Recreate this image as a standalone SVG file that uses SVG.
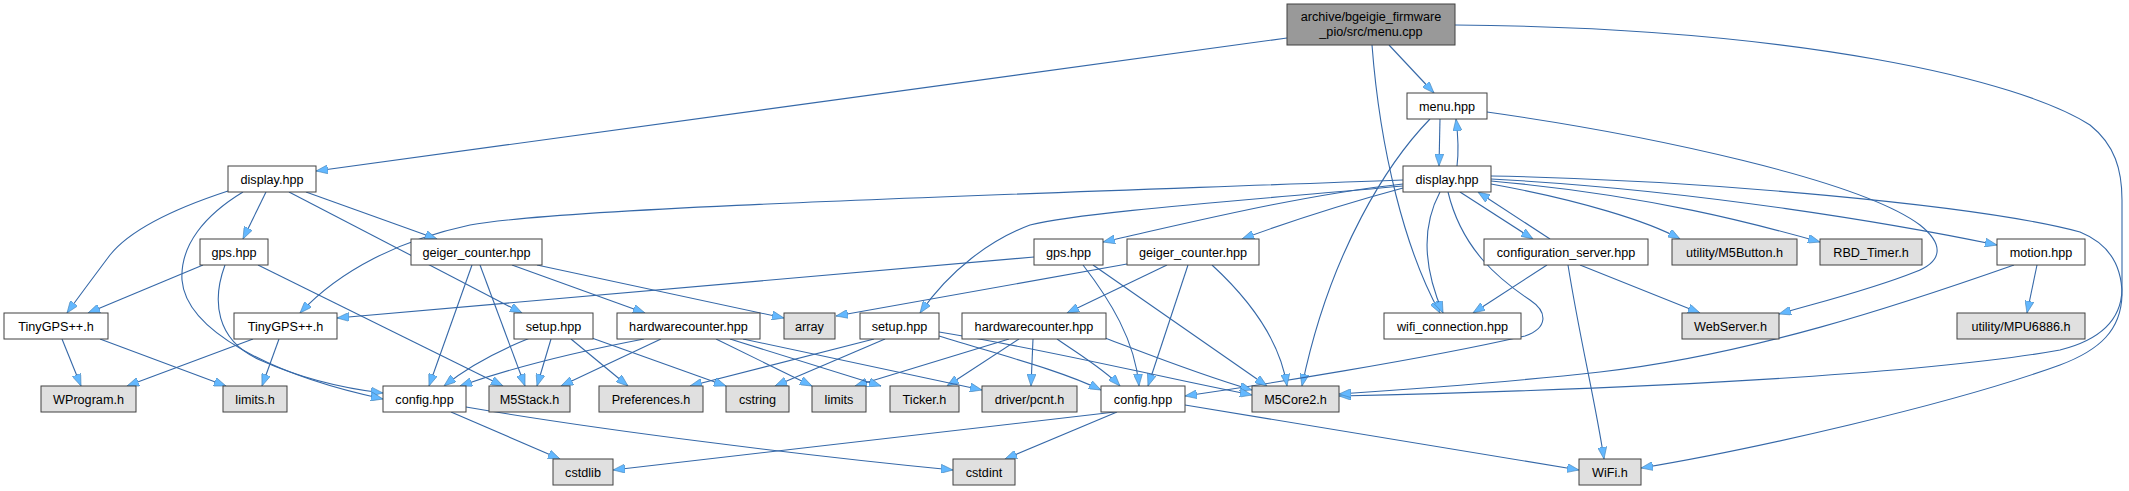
<svg xmlns="http://www.w3.org/2000/svg" width="2129" height="491" viewBox="0 0 2129 491">
<style>
.n rect{fill:#ffffff;stroke:#404040;stroke-width:1}
.x rect{fill:#e0e0e0;stroke:#404040;stroke-width:1}
.r rect{fill:#999999;stroke:#404040;stroke-width:1}
text{font-family:"Liberation Sans",Arial,sans-serif;font-size:12.65px;fill:#000;text-anchor:middle}
#edges path{fill:none;stroke:#3568a8;stroke-width:1.1;marker-end:url(#ah)}
</style>
<defs>
<marker id="ah" viewBox="0 0 12 9" refX="12" refY="4.5" markerWidth="12" markerHeight="9" markerUnits="userSpaceOnUse" orient="auto"><path d="M0,0 L12,4.5 L0,9 z" fill="#63b8ff" stroke="#4682b4" stroke-width="0.6"/></marker>
</defs>
<rect width="2129" height="491" fill="#ffffff"/>
<g id="edges">
<path d="M1287,38 L316,171"/>
<path d="M1389,45 L1434,93"/>
<path d="M1372,45 C1380,150 1405,250 1440,313"/>
<path d="M1455,25 C1800,28 2020,80 2090,125 C2115,145 2122,170 2122,200 L2122,290 C2121,320 2100,340 2060,350 C1950,370 1700,388 1339,396"/>
<path d="M1440,119 L1439,166"/>
<path d="M1457,166 C1459,150 1458,135 1456,119"/>
<path d="M1430,119 C1390,160 1330,250 1302,386"/>
<path d="M1487,112 C1650,135 1860,180 1920,225 C1945,245 1942,262 1915,272 C1870,290 1820,302 1779,314"/>
<path d="M1403,180 C1000,195 560,208 470,225 C400,240 340,270 300,313"/>
<path d="M1403,184 C1300,195 1180,225 1103,242"/>
<path d="M1403,188 C1340,205 1280,225 1242,239"/>
<path d="M1403,186 C1250,200 1080,212 1030,225 C990,240 950,270 920,313"/>
<path d="M1460,192 L1533,239"/>
<path d="M1550,239 L1478,192"/>
<path d="M1440,192 C1425,220 1420,260 1443,313"/>
<path d="M1448,192 C1462,250 1500,280 1530,300 C1548,312 1548,328 1525,336 C1420,360 1260,385 1185,396"/>
<path d="M1491,184 C1580,200 1650,222 1680,239"/>
<path d="M1491,181 C1650,195 1760,225 1820,242"/>
<path d="M1491,179 C1700,190 1900,225 1997,245"/>
<path d="M1491,176 C1700,180 1980,205 2080,232 C2112,245 2122,268 2122,295 C2121,330 2100,350 2060,365 C1950,405 1750,450 1641,468"/>
<path d="M1547,265 L1473,313"/>
<path d="M1580,265 L1700,313"/>
<path d="M1568,265 C1580,340 1595,400 1604,459"/>
<path d="M1034,257 L337,318"/>
<path d="M1083,265 C1110,300 1135,340 1139,386"/>
<path d="M1093,265 L1267,386"/>
<path d="M1127,264 L836,316"/>
<path d="M1167,265 L1067,313"/>
<path d="M1188,265 L1148,386"/>
<path d="M1212,265 C1250,300 1280,340 1287,386"/>
<path d="M2037,265 L2027,313"/>
<path d="M2014,265 C1900,305 1750,355 1600,372 C1500,383 1400,390 1339,394"/>
<path d="M1009,339 L855,386"/>
<path d="M1019,339 L947,386"/>
<path d="M1033,339 L1031,386"/>
<path d="M1057,339 C1080,355 1105,370 1120,386"/>
<path d="M1105,338 C1150,355 1200,375 1252,390"/>
<path d="M874,339 L690,386"/>
<path d="M885,339 L775,386"/>
<path d="M939,336 C1000,355 1060,370 1101,390"/>
<path d="M939,332 C1050,350 1150,375 1252,395"/>
<path d="M661,339 L561,386"/>
<path d="M644,339 C560,355 500,372 460,386"/>
<path d="M716,339 L812,386"/>
<path d="M730,339 L881,386"/>
<path d="M743,339 L982,390"/>
<path d="M530,338 C500,350 470,365 444,386"/>
<path d="M551,339 L537,386"/>
<path d="M571,339 L628,386"/>
<path d="M589,337 L726,386"/>
<path d="M472,265 L429,386"/>
<path d="M480,265 L525,386"/>
<path d="M512,265 L645,313"/>
<path d="M537,265 L784,318"/>
<path d="M203,265 L88,313"/>
<path d="M258,265 L503,386"/>
<path d="M225,265 C212,300 215,340 260,360 C300,378 340,388 383,393"/>
<path d="M228,191 C170,210 130,230 110,255 C95,275 80,295 67,313"/>
<path d="M243,192 C205,215 180,245 182,280 C186,330 270,375 383,399"/>
<path d="M266,192 L243,239"/>
<path d="M289,192 L522,313"/>
<path d="M306,192 L437,239"/>
<path d="M62,339 L81,386"/>
<path d="M100,339 L226,386"/>
<path d="M253,339 L127,386"/>
<path d="M279,339 L262,386"/>
<path d="M451,412 L560,459"/>
<path d="M466,407 C600,430 800,455 953,470"/>
<path d="M1115,412 L613,470"/>
<path d="M1117,412 L1005,459"/>
<path d="M1185,405 L1579,470"/>
</g>
<g id="root" class="r"><rect x="1287" y="4" width="168" height="41"/><text x="1371" y="21">archive/bgeigie_firmware</text><text x="1371" y="36">_pio/src/menu.cpp</text></g>
<g id="menu" class="n"><rect x="1407" y="93" width="80" height="26"/><text x="1447" y="110.5">menu.hpp</text></g>
<g id="displayL" class="n"><rect x="228" y="166" width="88" height="26"/><text x="272" y="183.5">display.hpp</text></g>
<g id="display2" class="n"><rect x="1403" y="166" width="88" height="26"/><text x="1447" y="183.5">display.hpp</text></g>
<g id="gpsL" class="n"><rect x="200" y="239" width="68" height="26"/><text x="234" y="256.5">gps.hpp</text></g>
<g id="geigerL" class="n"><rect x="411" y="239" width="131" height="26"/><text x="476.5" y="256.5">geiger_counter.hpp</text></g>
<g id="gps2" class="n"><rect x="1034" y="239" width="69" height="26"/><text x="1068.5" y="256.5">gps.hpp</text></g>
<g id="geiger2" class="n"><rect x="1127" y="239" width="132" height="26"/><text x="1193" y="256.5">geiger_counter.hpp</text></g>
<g id="confsrv" class="n"><rect x="1484" y="239" width="164" height="26"/><text x="1566" y="256.5">configuration_server.hpp</text></g>
<g id="m5button" class="x"><rect x="1672" y="239" width="125" height="26"/><text x="1734.5" y="256.5">utility/M5Button.h</text></g>
<g id="rbdtimer" class="x"><rect x="1820" y="239" width="102" height="26"/><text x="1871" y="256.5">RBD_Timer.h</text></g>
<g id="motion" class="n"><rect x="1997" y="239" width="88" height="26"/><text x="2041" y="256.5">motion.hpp</text></g>
<g id="tinyL" class="n"><rect x="4" y="313" width="104" height="26"/><text x="56" y="330.5">TinyGPS++.h</text></g>
<g id="tiny2" class="n"><rect x="234" y="313" width="103" height="26"/><text x="285.5" y="330.5">TinyGPS++.h</text></g>
<g id="setupL" class="n"><rect x="514" y="313" width="79" height="26"/><text x="553.5" y="330.5">setup.hpp</text></g>
<g id="hwL" class="n"><rect x="617" y="313" width="143" height="26"/><text x="688.5" y="330.5">hardwarecounter.hpp</text></g>
<g id="array" class="x"><rect x="784" y="313" width="51" height="26"/><text x="809.5" y="330.5">array</text></g>
<g id="setup2" class="n"><rect x="860" y="313" width="79" height="26"/><text x="899.5" y="330.5">setup.hpp</text></g>
<g id="hw2" class="n"><rect x="962" y="313" width="144" height="26"/><text x="1034" y="330.5">hardwarecounter.hpp</text></g>
<g id="wificonn" class="n"><rect x="1384" y="313" width="137" height="26"/><text x="1452.5" y="330.5">wifi_connection.hpp</text></g>
<g id="webserver" class="x"><rect x="1682" y="313" width="97" height="26"/><text x="1730.5" y="330.5">WebServer.h</text></g>
<g id="mpu" class="x"><rect x="1957" y="313" width="128" height="26"/><text x="2021" y="330.5">utility/MPU6886.h</text></g>
<g id="wprogram" class="x"><rect x="41" y="386" width="95" height="26"/><text x="88.5" y="403.5">WProgram.h</text></g>
<g id="limitsh" class="x"><rect x="223" y="386" width="64" height="26"/><text x="255" y="403.5">limits.h</text></g>
<g id="configL" class="n"><rect x="383" y="386" width="83" height="26"/><text x="424.5" y="403.5">config.hpp</text></g>
<g id="m5stack" class="x"><rect x="489" y="386" width="81" height="26"/><text x="529.5" y="403.5">M5Stack.h</text></g>
<g id="prefs" class="x"><rect x="599" y="386" width="104" height="26"/><text x="651" y="403.5">Preferences.h</text></g>
<g id="cstring" class="x"><rect x="726" y="386" width="63" height="26"/><text x="757.5" y="403.5">cstring</text></g>
<g id="limits" class="x"><rect x="812" y="386" width="54" height="26"/><text x="839" y="403.5">limits</text></g>
<g id="ticker" class="x"><rect x="890" y="386" width="69" height="26"/><text x="924.5" y="403.5">Ticker.h</text></g>
<g id="pcnt" class="x"><rect x="982" y="386" width="95" height="26"/><text x="1029.5" y="403.5">driver/pcnt.h</text></g>
<g id="config2" class="n"><rect x="1101" y="386" width="84" height="26"/><text x="1143" y="403.5">config.hpp</text></g>
<g id="m5core2" class="x"><rect x="1252" y="386" width="87" height="26"/><text x="1295.5" y="403.5">M5Core2.h</text></g>
<g id="cstdlib" class="x"><rect x="553" y="459" width="60" height="26"/><text x="583" y="476.5">cstdlib</text></g>
<g id="cstdint" class="x"><rect x="953" y="459" width="62" height="26"/><text x="984" y="476.5">cstdint</text></g>
<g id="wifih" class="x"><rect x="1579" y="459" width="62" height="26"/><text x="1610" y="476.5">WiFi.h</text></g>
</svg>
